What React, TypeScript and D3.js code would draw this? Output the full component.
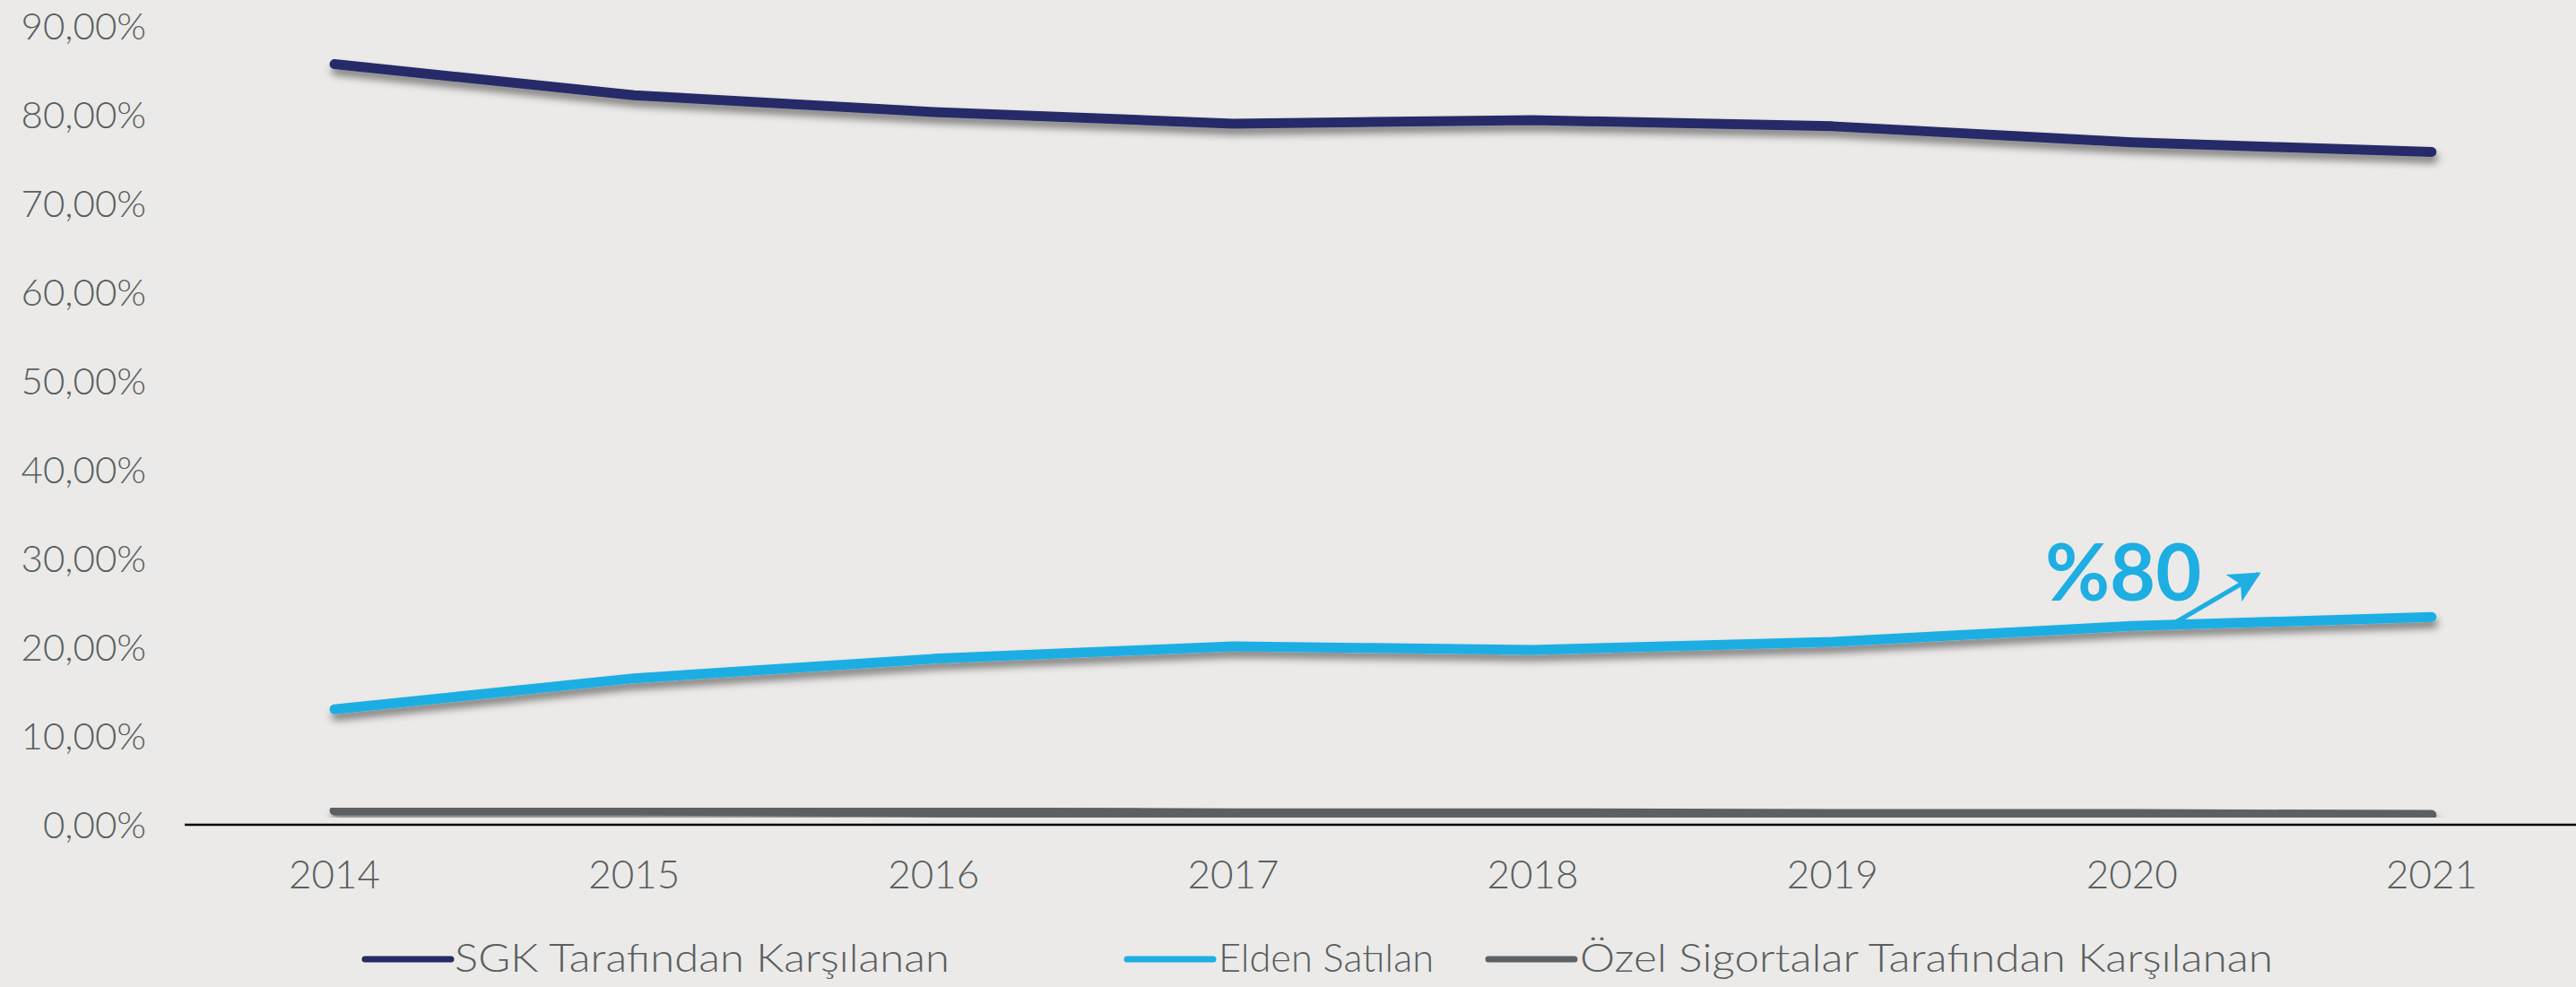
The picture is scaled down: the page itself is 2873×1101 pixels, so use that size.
import { line, scaleLinear, scalePoint } from "d3";

const W = 2873;
const H = 1101;

const years = ["2014", "2015", "2016", "2017", "2018", "2019", "2020", "2021"];
const sgk = [85.7, 82.2, 80.3, 79.0, 79.4, 78.7, 76.9, 75.8];
const elden = [13.0, 16.5, 18.7, 20.1, 19.7, 20.6, 22.4, 23.4];
const ozel = [1.6, 1.6, 1.4, 1.3, 1.3, 1.2, 1.2, 1.1];
const yTicks = [0, 10, 20, 30, 40, 50, 60, 70, 80, 90];

const seriesNames = ["SGK Tarafından Karşılanan", "Elden Satılan", "Özel Sigortalar Tarafından Karşılanan"];
const seriesColors = ["#252a68", "#1eaee2", "#5d6163"];
const seriesValues = [sgk, elden, ozel];

const TEXT = "#5a5e60";
const FONT = "Lato, 'Noto Sans', sans-serif";

const x = scalePoint<string>().domain(years).range([206, 2879]).padding(0.5);
const y = scaleLinear().domain([0, 90]).range([920, 29]);

const fmt = (v: number) => `${v.toFixed(2).replace(".", ",")}%`;

const path = line<number>()
  .x((_, i) => x(years[i]) ?? 0)
  .y((d) => y(d));

// legend layout: line start, text start, text width
const legend = [
  { lx: 407, tx: 507, tw: 552 },
  { lx: 1257, tx: 1359, tw: 240 },
  { lx: 1660, tx: 1762, tw: 773 },
];

export default function App() {
  const step = x.step();
  const ax = (x("2020") ?? 0) + step * 0.14;
  const ay = y(22.7);

  return (
    <div style={{ position: "fixed", left: 0, top: 0, width: W, height: H, background: "#ebeae8" }}>
      <svg width={W} height={H} viewBox={`0 0 ${W} ${H}`} style={{ display: "block" }}>
        <defs>
          <filter id="shadow" x="-5%" y="-50%" width="110%" height="200%">
            <feDropShadow dx="2" dy="7" stdDeviation="4" floodColor="#000" floodOpacity="0.45" />
          </filter>
          <marker id="arrow" viewBox="0 0 10 10" refX="9" refY="5" markerWidth="8" markerHeight="7" orient="auto" markerUnits="strokeWidth">
            <path d="M0,0 L10,5 L0,10 L2.5,5 Z" fill={seriesColors[1]} />
          </marker>
        </defs>

        {yTicks.map((t) => (
          <text
            key={t}
            x={163}
            y={y(t)}
            dy="0.36em"
            textAnchor="end"
            fontFamily={FONT}
            fontWeight={300}
            fontSize={42}
            fill={TEXT}
          >
            {fmt(t)}
          </text>
        ))}

        <line x1={206} x2={W} y1={y(0)} y2={y(0)} stroke="#000" strokeWidth={2.5} />

        {years.map((yr) => (
          <text
            key={yr}
            x={x(yr)}
            y={991}
            textAnchor="middle"
            fontFamily={FONT}
            fontWeight={300}
            fontSize={44}
            fill={TEXT}
          >
            {yr}
          </text>
        ))}

        {seriesValues.map((vals, i) => (
          <path
            key={seriesNames[i]}
            d={path(vals) ?? undefined}
            fill="none"
            stroke={seriesColors[i]}
            strokeWidth={11}
            strokeLinecap="round"
            strokeLinejoin="round"
            filter="url(#shadow)"
          />
        ))}

        {/* annotation */}
        <line
          x1={ax}
          y1={ay}
          x2={ax + 94}
          y2={ay - 55}
          stroke={seriesColors[1]}
          strokeWidth={5}
          markerEnd="url(#arrow)"
        />
        <text x={2281} y={670} fontFamily={FONT} fontWeight={700} fontSize={88} fill={seriesColors[1]}>
          %80
        </text>

        {seriesNames.map((name, i) => (
          <g key={name}>
            <line
              x1={legend[i].lx}
              x2={legend[i].lx + 96}
              y1={1070}
              y2={1070}
              stroke={seriesColors[i]}
              strokeWidth={7}
              strokeLinecap="round"
            />
            <text
              x={legend[i].tx}
              y={1084}
              fontFamily={FONT}
              fontWeight={300}
              fontSize={44}
              fill={TEXT}
              textLength={legend[i].tw}
              lengthAdjust="spacingAndGlyphs"
            >
              {name}
            </text>
          </g>
        ))}
      </svg>
    </div>
  );
}
